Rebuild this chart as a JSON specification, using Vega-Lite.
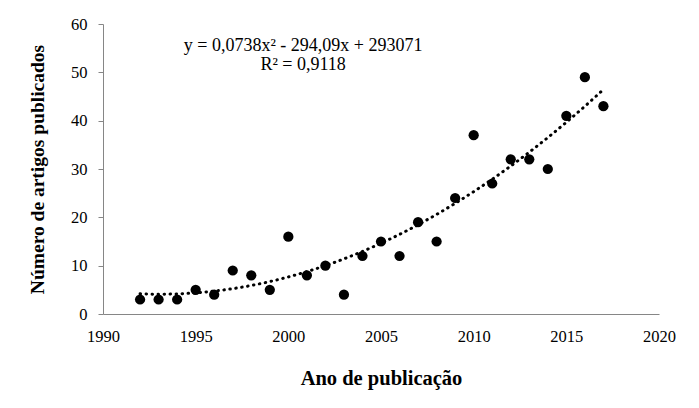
{
  "$schema": "https://vega.github.io/schema/vega-lite/v6.json",
  "width": 556,
  "height": 290,
  "autosize": {"type": "none"},
  "padding": {"left": 103, "top": 24, "right": 40, "bottom": 94},
  "background": "white",
  "config": {"view": {"stroke": null}, "font": "Liberation Serif"},
  "datasets": {
    "articles": [
      {"year": 1992, "n": 3}, {"year": 1993, "n": 3}, {"year": 1994, "n": 3},
      {"year": 1995, "n": 5}, {"year": 1996, "n": 4}, {"year": 1997, "n": 9},
      {"year": 1998, "n": 8}, {"year": 1999, "n": 5}, {"year": 2000, "n": 16},
      {"year": 2001, "n": 8}, {"year": 2002, "n": 10}, {"year": 2003, "n": 4},
      {"year": 2004, "n": 12}, {"year": 2005, "n": 15}, {"year": 2006, "n": 12},
      {"year": 2007, "n": 19}, {"year": 2008, "n": 15}, {"year": 2009, "n": 24},
      {"year": 2010, "n": 37}, {"year": 2011, "n": 27}, {"year": 2012, "n": 32},
      {"year": 2013, "n": 32}, {"year": 2014, "n": 30}, {"year": 2015, "n": 41},
      {"year": 2016, "n": 49}, {"year": 2017, "n": 43}
    ],
    "equation": [
      {"year": 2000.8, "n": 55.5, "label": "y = 0,0738x² - 294,09x + 293071"},
      {"year": 2000.8, "n": 51.5, "label": "R² = 0,9118"}
    ]
  },
  "encoding": {
    "x": {
      "field": "year", "type": "quantitative",
      "scale": {"domain": [1990, 2020], "nice": false, "zero": false},
      "axis": {
        "title": "Ano de publicação",
        "values": [1990, 1995, 2000, 2005, 2010, 2015, 2020],
        "format": "d", "grid": false, "ticks": false,
        "labelPadding": 14, "labelFlush": false, "labelOverlap": false,
        "domainColor": "#868686", "domainWidth": 1,
        "labelFont": "Liberation Serif", "labelFontSize": 16.5, "labelColor": "black",
        "titleFont": "Liberation Serif", "titleFontSize": 20.5, "titleFontWeight": "bold",
        "titleColor": "black", "titlePadding": 24
      }
    },
    "y": {
      "field": "n", "type": "quantitative",
      "scale": {"domain": [0, 60], "nice": false},
      "axis": {
        "title": "Número de artigos publicados",
        "values": [0, 10, 20, 30, 40, 50, 60],
        "grid": false, "tickSize": 5, "tickColor": "#868686",
        "labelPadding": 11, "labelFlush": false, "labelOverlap": false,
        "domainColor": "#868686", "domainWidth": 1,
        "labelFont": "Liberation Serif", "labelFontSize": 16.5, "labelColor": "black",
        "titleFont": "Liberation Serif", "titleFontSize": 19.5, "titleFontWeight": "bold",
        "titleColor": "black", "titlePadding": 23
      }
    }
  },
  "layer": [
    {
      "data": {"name": "articles"},
      "transform": [{"regression": "n", "on": "year", "method": "poly", "order": 2}],
      "mark": {"type": "line", "color": "black", "strokeWidth": 3, "strokeDash": [0.5, 5.5], "strokeCap": "round"}
    },
    {
      "data": {"name": "articles"},
      "mark": {"type": "circle", "size": 105, "color": "black", "opacity": 1}
    },
    {
      "data": {"name": "equation"},
      "mark": {"type": "text", "font": "Liberation Serif", "fontSize": 18, "align": "center", "baseline": "middle", "color": "black"},
      "encoding": {"text": {"field": "label"}}
    }
  ]
}
